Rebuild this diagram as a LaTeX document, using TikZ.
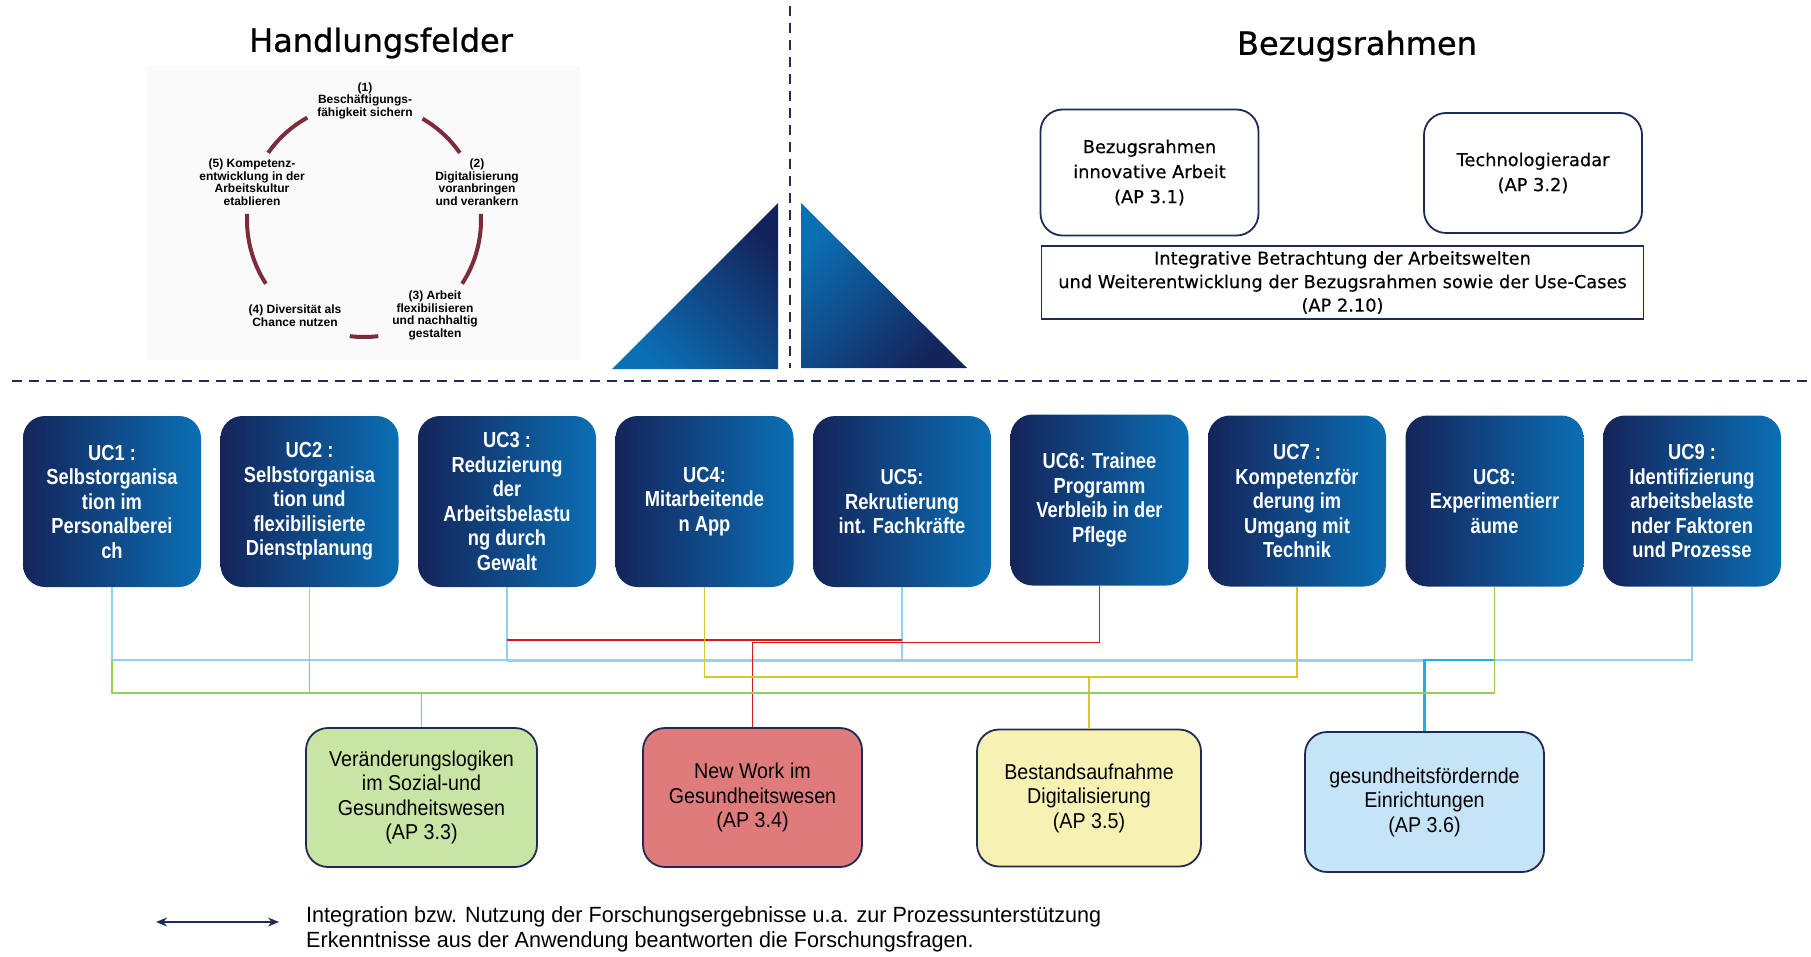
\documentclass[tikz,border=0pt]{standalone}
\usepackage{fontspec}
\setmainfont{Liberation Sans}
\newfontfamily\ucfont[FakeStretch=0.84]{Liberation Sans}
\newfontfamily\apfont[FakeStretch=0.915]{Liberation Sans}
\newfontfamily\legfont[FakeStretch=0.98]{Liberation Sans}
\newfontfamily\bzfont[FakeBold=0.4]{DejaVu Sans}
\newfontfamily\titlefont[FakeBold=0.8]{DejaVu Sans}
\usetikzlibrary{arrows.meta}
\definecolor{navy}{HTML}{1F2A56}
\definecolor{ucdark}{HTML}{14245A}
\definecolor{uclight}{HTML}{0B6FB4}
\definecolor{arccol}{HTML}{7B2D3B}
\definecolor{lblue}{HTML}{93D0F3}
\definecolor{bblue}{HTML}{22AEEA}
\definecolor{lgreen}{HTML}{92D050}
\definecolor{lyellow}{HTML}{D6C92A}
\definecolor{lred}{HTML}{D9161C}
\definecolor{fgreen}{HTML}{C9E5A3}
\definecolor{fred}{HTML}{E07B7B}
\definecolor{fyellow}{HTML}{F7F2B3}
\definecolor{fblue}{HTML}{C5E4F8}
\definecolor{panelbg}{HTML}{FAFAFA}
\begin{document}
\begin{tikzpicture}[x=1pt,y=-1pt,
  ucbox/.style={rounded corners=22pt, minimum width=178pt, minimum height=171pt,
    left color=ucdark, right color=uclight, text=white, align=center, inner sep=0pt,
    font=\ucfont\bfseries\fontsize{21.8}{24.5}\selectfont},
  apbox/.style={draw=navy, line width=1.8pt, rounded corners=22pt, align=center, inner sep=0pt,
    font=\apfont\fontsize{21.5}{24.5}\selectfont},
  bzbox/.style={draw=navy, line width=1.8pt, align=center, inner sep=0pt,
    font=\bzfont\fontsize{17.8}{25}\selectfont},
  titlestyle/.style={font=\titlefont\fontsize{32}{38}\selectfont, inner sep=0pt},
  hlabel/.style={font=\bfseries\fontsize{12}{12.5}\selectfont, align=center, inner sep=0pt},
  conn/.style={line width=1.6pt},
  dashline/.style={navy, line width=2.4pt, dash pattern=on 10pt off 7pt},
  arcline/.style={arccol, line width=4pt}
]
\useasboundingbox (0,0) rectangle (1811,957);

% titles
\node[titlestyle] (t1) at (381,43) {Handlungsfelder};
\node[titlestyle] (t2) at (1357,46) {Bezugsrahmen};

% dashed separators
\draw[dashline] (790,6) -- (790,368);
\draw[dashline] (12,381) -- (1808,381);

% triangles
\shade[top color=ucdark, bottom color=uclight, shading angle=-45] (612,369) -- (778,203) -- (778,369) -- cycle;
\shade[top color=uclight, bottom color=ucdark, shading angle=45] (801,203) -- (801,368) -- (967,368) -- cycle;

% Handlungsfelder panel
\fill[panelbg] (147,66) rectangle (580,360);
\draw[arcline] (364,220) ++(-119:117) arc[start angle=-119, end angle=-145, radius=117];
\draw[arcline] (364,220) ++(-35:117) arc[start angle=-35, end angle=-60, radius=117];
\draw[arcline] (364,220) ++(33:117) arc[start angle=33, end angle=-3, radius=117];
\draw[arcline] (364,220) ++(97:117) arc[start angle=97, end angle=83, radius=117];
\draw[arcline] (364,220) ++(-177:117) arc[start angle=-177, end angle=-213, radius=117];
\node[hlabel] (h1) at (365,100.5) {(1)\\Beschäftigungs-\\fähigkeit sichern};
\node[hlabel] (h2) at (477,182) {(2)\\Digitalisierung\\voranbringen\\und verankern};
\node[hlabel] (h3) at (435,315.5) {(3) Arbeit\\flexibilisieren\\und nachhaltig\\gestalten};
\node[hlabel] (h4) at (295,315.5) {(4) Diversität als\\Chance nutzen};
\node[hlabel] (h5) at (252,182) {(5) Kompetenz-\\entwicklung in der\\Arbeitskultur\\etablieren};

% Bezugsrahmen boxes
\node[bzbox, rounded corners=22pt, minimum width=218pt, minimum height=126pt] (b1) at (1149.5,172.5) {Bezugsrahmen\\innovative Arbeit\\(AP 3.1)};
\node[bzbox, rounded corners=22pt, minimum width=218pt, minimum height=120pt] (b2) at (1533,173) {Technologieradar\\(AP 3.2)};
\node[bzbox, minimum width=602pt, minimum height=73pt, font=\bzfont\fontsize{17.8}{23.5}\selectfont] (b3) at (1342.5,282.5) {Integrative Betrachtung der Arbeitswelten\\und Weiterentwicklung der Bezugsrahmen sowie der Use-Cases\\(AP 2.10)};

% Use cases
\node[ucbox] (uc1) at (112,501.5) {UC1 :\\Selbstorganisa\\tion im\\Personalberei\\ch};
\node[ucbox] (uc2) at (309.5,501.5) {UC2 :\\Selbstorganisa\\tion und\\flexibilisierte\\Dienstplanung};
\node[ucbox] (uc3) at (507,501.5) {UC3 :\\Reduzierung\\der\\Arbeitsbelastu\\ng durch\\Gewalt};
\node[ucbox] (uc4) at (704.5,501.5) {UC4:\\Mitarbeitende\\n App};
\node[ucbox] (uc5) at (902,501.5) {UC5:\\Rekrutierung\\int. Fachkräfte};
\node[ucbox] (uc6) at (1099.5,500) {UC6: Trainee\\Programm\\Verbleib in der\\Pflege};
\node[ucbox] (uc7) at (1297,501) {UC7 :\\Kompetenzför\\derung im\\Umgang mit\\Technik};
\node[ucbox] (uc8) at (1494.5,501) {UC8:\\Experimentierr\\äume};
\node[ucbox] (uc9) at (1692,501) {UC9 :\\Identifizierung\\arbeitsbelaste\\nder Faktoren\\und Prozesse};

% AP boxes
\node[apbox, fill=fgreen, minimum width=231pt, minimum height=139pt] (ap33) at (421.5,797.5) {Veränderungslogiken\\im Sozial-und\\Gesundheitswesen\\(AP 3.3)};
\node[apbox, fill=fred, minimum width=219pt, minimum height=139pt] (ap34) at (752.5,797.5) {New Work im\\Gesundheitswesen\\(AP 3.4)};
\node[apbox, fill=fyellow, minimum width=224pt, minimum height=137pt] (ap35) at (1089,798) {Bestandsaufnahme\\Digitalisierung\\(AP 3.5)};
\node[apbox, fill=fblue, minimum width=239pt, minimum height=140pt] (ap36) at (1424.5,802) {gesundheitsfördernde\\Einrichtungen\\(AP 3.6)};

% connector levels
\coordinate (yblue) at (0,660);
\coordinate (yred1) at (0,640);
\coordinate (yred2) at (0,642.5);
\coordinate (yyel) at (0,677);
\coordinate (ygrn) at (0,693);

% light blue
\draw[conn, lblue] (uc1.south) -- (uc1.south|-yblue) -- (uc9.south|-yblue) -- (uc9.south);
\draw[conn, lblue] (uc2.south) -- (uc2.south|-yblue);
\draw[conn, lblue] (uc3.south) -- (uc3.south|-yblue);
\draw[conn, lblue] (uc5.south) -- (uc5.south|-yblue);
\draw[lblue, line width=3pt] (uc3.south|-yblue) -- (ap36.north|-yblue);
% bright blue
\draw[bblue, line width=2.2pt] (ap36.north) -- (ap36.north|-yblue) -- (uc8.south|-yblue);
% red
\draw[conn, lred] (uc3.south|-yred1) -- (uc5.south|-yred1);
\draw[conn, lred] (uc6.south) -- (uc6.south|-yred2) -- (ap34.north|-yred2) -- (ap34.north);
% yellow
\draw[conn, lyellow] (uc4.south) -- (uc4.south|-yyel) -- (uc7.south|-yyel) -- (uc7.south);
\draw[conn, lyellow] (ap35.north) -- (ap35.north|-yyel);
% green
\draw[conn, lgreen] (uc1.south|-yblue) -- (uc1.south|-ygrn) -- (ap33.north|-ygrn) -- (ap33.north);
\draw[conn, lgreen] (uc2.south|-yblue) -- (uc2.south|-ygrn) -- (uc8.south|-ygrn) -- (uc8.south);

% legend
\coordinate (arrL) at (156,922);
\coordinate (arrR) at (279,922);
\draw[navy, line width=1.6pt, {Stealth[length=11pt,width=9pt]}-{Stealth[length=11pt,width=9pt]}] (arrL) -- (arrR);
\node[anchor=west, align=left, inner sep=0pt, font=\legfont\fontsize{22}{25.5}\selectfont] (leg) at (306,929.5) {Integration bzw. Nutzung der Forschungsergebnisse u.a. zur Prozessunterstützung\\Erkenntnisse aus der Anwendung beantworten die Forschungsfragen.};
\end{tikzpicture}
\end{document}
